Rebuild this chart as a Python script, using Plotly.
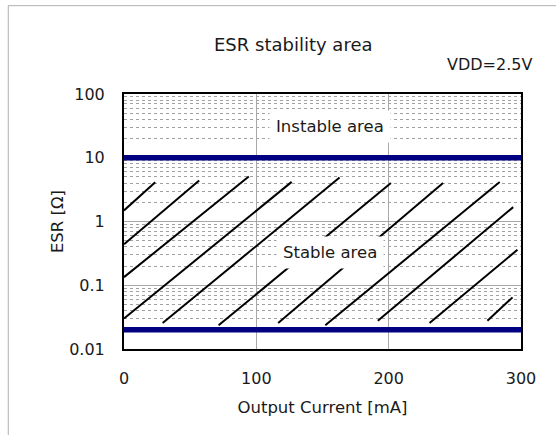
import plotly.graph_objects as go

# ---- data ----
current_ticks = [0, 100, 200, 300]
esr_ticks = [0.01, 0.1, 1, 10, 100]
esr_ticktext = ["0.01", "0.1", "1", "10", "100"]

boundary_x = [0, 300]
upper_esr = [10, 10]
lower_esr = [0.02, 0.02]

# hatch segments (start / end) of the stable area
hatch_x0 = [0, 0, 0, 0, 29.2, 71.5, 116.5, 152.1, 191.8, 230.9, 274.6]
hatch_y0 = [1.49, 0.44, 0.134, 0.030, 0.0255, 0.0235, 0.0255, 0.0235, 0.0278, 0.0255, 0.0278]
hatch_x1 = [23.6, 56.8, 94.3, 126.7, 162.9, 201.7, 241.1, 283.9, 294.1, 297.3, 293.6]
hatch_y1 = [4.13, 4.39, 5.07, 4.18, 4.89, 4.03, 4.03, 4.18, 1.68, 0.36, 0.0645]

minor_vals = [m * d for d in [0.01, 0.1, 1, 10] for m in range(2, 10)]

FONT = "DejaVu Sans"

hx, hy = [], []
for a, b, c, d in zip(hatch_x0, hatch_y0, hatch_x1, hatch_y1):
    hx += [a, c, None]
    hy += [b, d, None]

fig = go.Figure()
fig.add_trace(go.Scatter(x=hx, y=hy, mode="lines",
                         line=dict(color="black", width=2), hoverinfo="skip"))
fig.add_trace(go.Scatter(x=boundary_x, y=upper_esr, mode="lines",
                         line=dict(color="#000080", width=5.5)))
fig.add_trace(go.Scatter(x=boundary_x, y=lower_esr, mode="lines",
                         line=dict(color="#000080", width=5.5)))

fig.update_layout(
    width=556, height=435,
    margin=dict(l=124, r=35, t=94, b=86),
    paper_bgcolor="white", plot_bgcolor="white",
    showlegend=False,
    font=dict(family=FONT, size=16, color="#1a1a1a"),
)

fig.update_xaxes(
    range=[0, 300], tickvals=current_ticks,
    showgrid=True, gridcolor="#a8a8a8", gridwidth=1,
    showline=True, linecolor="black", linewidth=2, mirror=True,
    ticks="outside", ticklen=14, tickcolor="rgba(0,0,0,0)",
    zeroline=False,
    title=dict(text="Output Current [mA]", font=dict(size=16.5), standoff=14),
)
fig.update_yaxes(
    type="log", range=[-2, 2], tickvals=esr_ticks, ticktext=esr_ticktext,
    showgrid=True, gridcolor="#a8a8a8", gridwidth=1,
    minor=dict(tickvals=minor_vals, showgrid=True, gridcolor="#a0a0a0",
               griddash="dot", gridwidth=1, ticks=""),
    showline=True, linecolor="black", linewidth=2, mirror=True,
    ticks="outside", ticklen=14, tickcolor="rgba(0,0,0,0)",
    zeroline=False,
    title=dict(text="ESR [Ω]", font=dict(size=16.5), standoff=1),
)

fig.add_annotation(text="ESR stability area", xref="paper", yref="paper",
                   x=0.427, y=1.193, showarrow=False, font=dict(size=18),
                   xanchor="center", yanchor="middle")
fig.add_annotation(text="VDD=2.5V", xref="paper", yref="paper",
                   x=1.0327, y=1.114, showarrow=False, font=dict(size=16),
                   xanchor="right", yanchor="middle")
fig.add_annotation(text="Instable area", x=155.3, y=1.496, yref="y",
                   showarrow=False, font=dict(size=16.5), bgcolor="white",
                   borderpad=6)
fig.add_annotation(text="Stable area", x=155.7, y=-0.492, yref="y",
                   showarrow=False, font=dict(size=16.5), bgcolor="white",
                   borderpad=6)

fig.add_shape(type="rect", xref="paper", yref="paper",
              x0=-0.2915, y0=-0.6, x1=1.3, y1=1.3465,
              line=dict(color="#b0b0b0", width=1), fillcolor="rgba(0,0,0,0)",
              layer="below")

fig.write_html("out.html")
